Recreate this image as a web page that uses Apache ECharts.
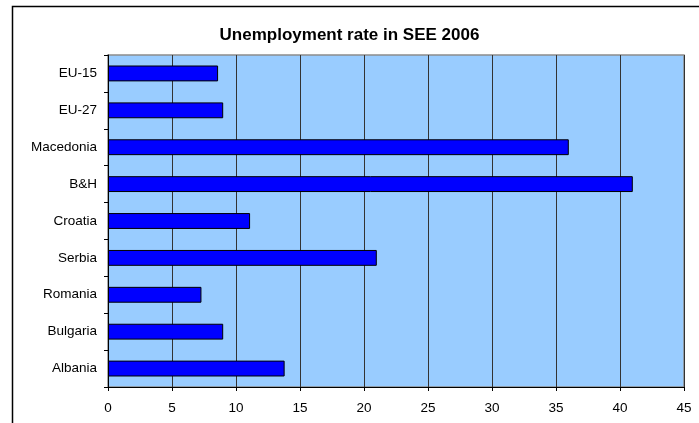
<!DOCTYPE html>
<html>
<head>
<meta charset="utf-8">
<script src="https://cdn.jsdelivr.net/npm/echarts@6/dist/echarts.min.js"></script>
<style>
  html, body { margin: 0; padding: 0; background: #fff; }
  #chart { width: 699px; height: 423px; }
</style>
</head>
<body>
<div id="chart"></div>
<script>
// Regions, listed top to bottom
var regions = ['EU-15', 'EU-27', 'Macedonia', 'B&H', 'Croatia', 'Serbia', 'Romania', 'Bulgaria', 'Albania'];
// Unemployment rate, %, 2006
var rates = [8.6, 9.0, 36.0, 41.0, 11.1, 21.0, 7.3, 9.0, 13.8];
var axisMin = 0, axisMax = 45, axisStep = 5;

var chart = echarts.init(document.getElementById('chart'), null, { renderer: 'canvas' });
var font = 'Arial, "Liberation Sans", sans-serif';

chart.setOption({
  animation: false,
  backgroundColor: '#ffffff',
  title: {
    text: 'Unemployment rate in SEE 2006',
    left: 'center',
    top: 22,
    textStyle: { fontFamily: font, fontSize: 17, fontWeight: 'bold', color: '#000' }
  },
  graphic: [{
    type: 'rect',
    shape: { x: 12.5, y: 6.5, width: 720, height: 440 },
    style: { fill: null, stroke: '#000', lineWidth: 1.5 },
    silent: true,
    z: -1
  }],
  grid: {
    left: 108, right: 15, top: 55, bottom: 36,
    show: true,
    backgroundColor: '#99ccff',
    borderColor: '#8c8c8c',
    borderWidth: 1.5
  },
  xAxis: {
    type: 'value',
    min: axisMin, max: axisMax, interval: axisStep,
    axisLine: { show: true, lineStyle: { color: '#000', width: 1 } },
    axisTick: { show: true, length: 4, lineStyle: { color: '#000' } },
    axisLabel: { fontFamily: font, fontSize: 13.5, color: '#000', margin: 14 },
    splitLine: { show: true, lineStyle: { color: '#333', width: 1 } }
  },
  yAxis: {
    type: 'category',
    data: regions,
    inverse: true,
    axisLine: { show: true, lineStyle: { color: '#000', width: 1 } },
    axisTick: { show: true, length: 4, lineStyle: { color: '#000' } },
    axisLabel: { fontFamily: font, fontSize: 13.5, color: '#000', margin: 11 },
    splitLine: { show: false }
  },
  series: [{
    type: 'bar',
    data: rates,
    barCategoryGap: '57%',
    itemStyle: { color: '#0000ff', borderColor: '#000', borderWidth: 1 }
  }]
});
</script>
</body>
</html>
